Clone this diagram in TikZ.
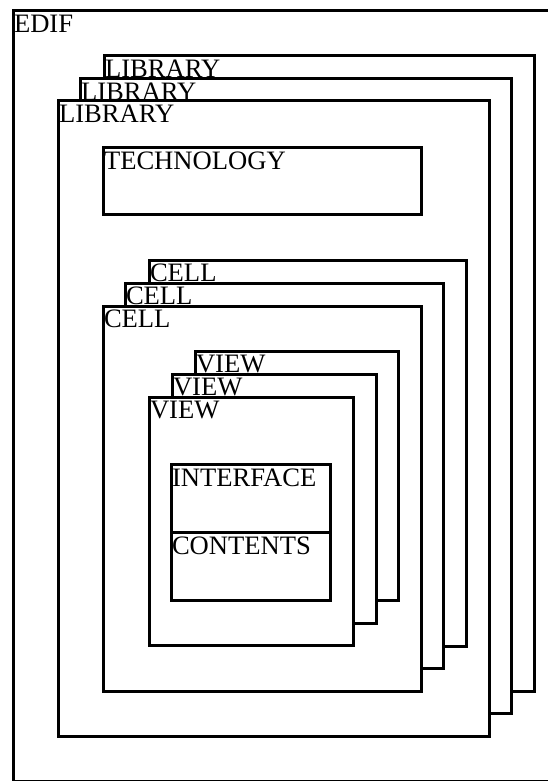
\documentclass[tikz,border=0pt]{standalone}
\usepackage{fontspec}
\setmainfont{Liberation Serif}
\begin{document}
\begin{tikzpicture}[x=1pt,y=-1pt,
  box/.style={draw=black,fill=white,line width=3pt},
  lbl/.style={anchor=base west,inner sep=0pt,outer sep=0pt,font=\fontsize{26.6}{30}\selectfont}]
\useasboundingbox (0,0) rectangle (548,781);
% EDIF
\draw[box] (13,11) rectangle (570,781.5);
\node[lbl] (edif) at (14,33) {EDIF};
% Libraries
\draw[box] (104,56) rectangle (534,691);
\node[lbl] (lib1) at (105,78) {LIBRARY};
\draw[box] (80,79) rectangle (511,713);
\node[lbl] (lib2) at (81,101) {LIBRARY};
\draw[box] (58,101) rectangle (489,736);
\node[lbl] (lib3) at (59,123) {LIBRARY};
% Technology
\draw[box] (103,147) rectangle (421,214);
\node[lbl] (tech) at (104,169) {TECHNOLOGY};
% Cells
\draw[box] (149,260) rectangle (466,646);
\node[lbl] (cell1) at (150,281.5) {CELL};
\draw[box] (125,283) rectangle (443,668);
\node[lbl] (cell2) at (126,304.5) {CELL};
\draw[box] (103,306) rectangle (421,691);
\node[lbl] (cell3) at (104,327.5) {CELL};
% Views
\draw[box] (195,351) rectangle (398,600);
\node[lbl] (view1) at (196,372) {VIEW};
\draw[box] (172,374) rectangle (376,623);
\node[lbl] (view2) at (173,395) {VIEW};
\draw[box] (149,397) rectangle (353,645);
\node[lbl] (view3) at (150,418) {VIEW};
% Interface / contents
\draw[box] (171,464) rectangle (330,532);
\node[lbl] (iface) at (172,486) {INTERFACE};
\draw[box] (171,532) rectangle (330,600);
\node[lbl] (cont) at (172,554) {CONTENTS};
\end{tikzpicture}
\end{document}
